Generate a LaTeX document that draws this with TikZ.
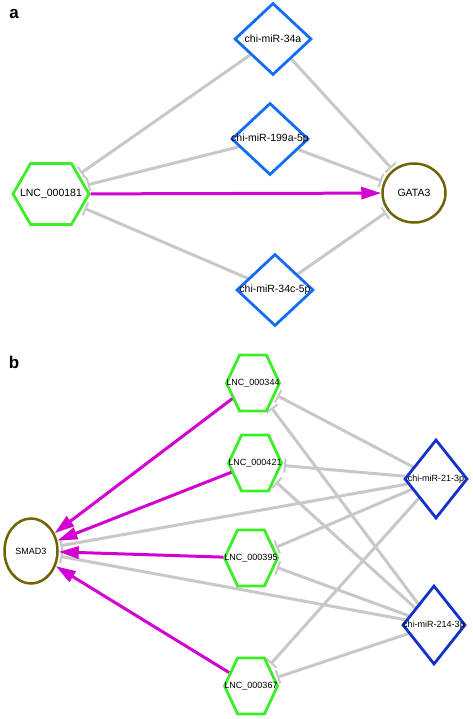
\documentclass[tikz,border=0pt]{standalone}
\usepackage{fontspec}
\setmainfont{Liberation Sans}
\usetikzlibrary{shapes.geometric,shapes.symbols,arrows.meta,backgrounds}
\begin{document}
\begin{tikzpicture}[x=1pt, y=-1pt,
    lncrna/.style={signal, signal to=east and west, draw=lncgreen, fill=white,
        line width=2.8pt, inner sep=0pt},
    mirna/.style={diamond, draw=#1, fill=white, line width=2.8pt, inner sep=0pt},
    gene/.style={ellipse, draw=genecolor, fill=white, line width=2.5pt, inner sep=0pt},
    inhib/.style={draw=edgegray, line width=3pt, -{Bar[width=14pt,line width=2pt]},
        shorten >=2pt},
    act/.style={draw=actmagenta, line width=3pt, -{Triangle[length=20pt,width=12pt]}},
    panel/.style={font=\fontsize{17}{17}\selectfont\bfseries}]
    % Define colors
    \definecolor{lncgreen}{RGB}{60,238,40}
    \definecolor{mirblue}{RGB}{20,110,245}
    \definecolor{mirdark}{RGB}{20,50,200}
    \definecolor{genecolor}{RGB}{110,100,0}
    \definecolor{edgegray}{RGB}{200,200,200}
    \definecolor{actmagenta}{RGB}{210,0,210}

    \useasboundingbox (0,0) rectangle (472,719);

    % Panel a
    \node[panel] (labela) at (14,14) {a};
    \begin{scope}[font=\fontsize{10.5}{12}\selectfont]
        \node[mirna=mirblue, minimum width=77pt, minimum height=72pt,
            label=center:{chi-miR-34a}] (m34a) at (273,39) {};
        \node[mirna=mirblue, minimum width=77pt, minimum height=72pt,
            label=center:{chi-miR-199a-5p}] (m199a) at (270,139) {};
        \node[mirna=mirblue, minimum width=77pt, minimum height=72pt,
            label=center:{chi-miR-34c-5p}] (m34c) at (275,290) {};
        \node[lncrna, minimum width=76pt, minimum height=61pt,
            signal pointer angle=120, label=center:{LNC\_000181}] (lnc181) at (51,194) {};
        \node[gene, minimum width=63pt, minimum height=59pt] (gata3) at (414,193) {GATA3};
    \end{scope}

    \begin{scope}[on background layer]
        \foreach \m in {m34a,m199a,m34c} {
            \draw[inhib] (\m) -- (lnc181);
            \draw[inhib] (\m) -- (gata3);
        }
    \end{scope}
    \draw[act] (lnc181) -- (gata3);

    % Panel b
    \node[panel] (labelb) at (14,362) {b};
    \begin{scope}[font=\fontsize{9}{11}\selectfont]
        \node[lncrna, minimum width=53pt, minimum height=56pt,
            signal pointer angle=130, label=center:{LNC\_000344}] (lnc344) at (253,383) {};
        \node[lncrna, minimum width=53pt, minimum height=56pt,
            signal pointer angle=130, label=center:{LNC\_000421}] (lnc421) at (255,463) {};
        \node[lncrna, minimum width=53pt, minimum height=56pt,
            signal pointer angle=130, label=center:{LNC\_000395}] (lnc395) at (251,558) {};
        \node[lncrna, minimum width=53pt, minimum height=56pt,
            signal pointer angle=130, label=center:{LNC\_000367}] (lnc367) at (251,686) {};
        \node[gene, minimum width=53pt, minimum height=65pt] (smad3) at (31,551) {SMAD3};
        \node[mirna=mirdark, minimum width=63pt, minimum height=79pt,
            label=center:{chi-miR-21-3p}] (m21) at (436,479) {};
        \node[mirna=mirdark, minimum width=63pt, minimum height=79pt,
            label=center:{chi-miR-214-3p}] (m214) at (434,625) {};
    \end{scope}

    \begin{scope}[on background layer]
        \foreach \m in {m21,m214} {
            \foreach \l in {lnc344,lnc421,lnc395,lnc367}
                \draw[inhib] (\m) -- (\l);
            \draw[inhib] (\m) -- (smad3);
        }
    \end{scope}
    \foreach \l in {lnc344,lnc421,lnc395,lnc367}
        \draw[act] (\l) -- (smad3);

\end{tikzpicture}
\end{document}
